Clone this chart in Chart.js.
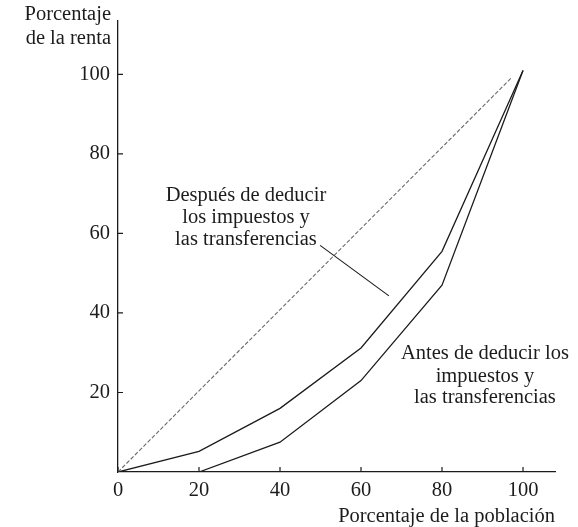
<!DOCTYPE html>
<html>
<head>
<meta charset="utf-8">
<script src="https://cdn.jsdelivr.net/npm/chart.js@4"></script>
<style>
  html, body { margin: 0; padding: 0; background: #ffffff; }
  #wrap { width: 578px; height: 527px; position: relative; }
</style>
</head>
<body>
<div id="wrap"><canvas id="lorenz"></canvas></div>
<script>
// Data (percent of population vs percent of income)
var poblacion = [0, 20, 40, 60, 80, 100];
var despues = [0, 5.2, 16, 31.2, 55.5, 101];   // after taxes and transfers
var antes = [0, 0, 7.5, 23, 47, 101];          // before taxes and transfers
var igualdadX = [0, 97];
var igualdadY = [0, 99];
var xTicks = [0, 20, 40, 60, 80, 100];
var yTicks = [20, 40, 60, 80, 100];

var FONT = '"Liberation Serif", "DejaVu Serif", serif';
var SIZE = 20.5;
var INK = '#1c1c1c';

function toPoints(xs, ys) {
  return xs.map(function (x, i) { return { x: x, y: ys[i] }; });
}

// Text labels and the pointer line, placed in data units
var annotations = {
  despues: { x: 31.6, lines: ['Después de deducir', 'los impuestos y', 'las transferencias'], y: [69.6, 64.1, 58.5] },
  antes: { x: 90.6, lines: ['Antes de deducir los', 'impuestos y', 'las transferencias'], y: [29.9, 24.1, 18.6] },
  pointer: [{ x: 49.9, y: 57.0 }, { x: 66.9, y: 44.3 }]
};

var annotate = {
  id: 'annotate',
  afterDraw: function (chart) {
    var ctx = chart.ctx;
    var xs = chart.scales.x, ys = chart.scales.y;
    var area = chart.chartArea;
    ctx.save();

    // inward tick marks
    ctx.strokeStyle = INK;
    ctx.lineWidth = 1.2;
    ctx.beginPath();
    xTicks.forEach(function (v) {
      var px = xs.getPixelForValue(v);
      ctx.moveTo(px, area.bottom);
      ctx.lineTo(px, area.bottom - 5);
    });
    yTicks.forEach(function (v) {
      var py = ys.getPixelForValue(v);
      ctx.moveTo(area.left, py);
      ctx.lineTo(area.left + 5, py);
    });
    ctx.stroke();

    // pointer
    var p = annotations.pointer;
    ctx.lineWidth = 1.1;
    ctx.beginPath();
    ctx.moveTo(xs.getPixelForValue(p[0].x), ys.getPixelForValue(p[0].y));
    ctx.lineTo(xs.getPixelForValue(p[1].x), ys.getPixelForValue(p[1].y));
    ctx.stroke();

    ctx.fillStyle = INK;
    ctx.font = SIZE + 'px ' + FONT;
    ctx.textBaseline = 'middle';

    // y axis title, horizontal, right aligned against the axis
    ctx.textAlign = 'right';
    ctx.fillText('Porcentaje', area.left - 7, 15);
    ctx.fillText('de la renta', area.left - 7, 39);

    ctx.textAlign = 'center';
    ['despues', 'antes'].forEach(function (k) {
      var a = annotations[k];
      a.lines.forEach(function (t, i) {
        ctx.fillText(t, xs.getPixelForValue(a.x), ys.getPixelForValue(a.y[i]));
      });
    });
    ctx.restore();
  }
};

var ctx = document.getElementById('lorenz');
new Chart(ctx, {
  type: 'line',
  data: {
    datasets: [{
      label: 'Igualdad',
      data: toPoints(igualdadX, igualdadY),
      borderColor: '#6a6a6a',
      borderWidth: 1.1,
      borderDash: [4, 2],
      pointRadius: 0,
      tension: 0
    }, {
      label: 'Después de deducir los impuestos y las transferencias',
      data: toPoints(poblacion, despues),
      borderColor: INK,
      borderWidth: 1.3,
      pointRadius: 0,
      tension: 0
    }, {
      label: 'Antes de deducir los impuestos y las transferencias',
      data: toPoints(poblacion, antes),
      borderColor: INK,
      borderWidth: 1.3,
      pointRadius: 0,
      tension: 0
    }]
  },
  options: {
    responsive: true,
    maintainAspectRatio: false,
    animation: false,
    layout: { padding: { top: 20, right: 23, left: 0, bottom: 0 } },
    plugins: {
      legend: { display: false },
      tooltip: { enabled: false }
    },
    scales: {
      x: {
        type: 'linear',
        min: 0,
        max: 107.9,
        afterBuildTicks: function (scale) {
          scale.ticks = xTicks.map(function (v) { return { value: v }; });
        },
        afterFit: function (scale) { scale.height = 55; },
        grid: { drawOnChartArea: false, drawTicks: false },
        border: { color: INK, width: 1.3 },
        ticks: { padding: 6, color: INK, font: { family: FONT, size: SIZE }, maxRotation: 0 },
        title: {
          display: true,
          text: 'Porcentaje de la población',
          align: 'end',
          color: INK,
          font: { family: FONT, size: SIZE, lineHeight: 1 },
          padding: { top: 0, bottom: 0 }
        }
      },
      y: {
        type: 'linear',
        min: 0,
        max: 113.6,
        afterBuildTicks: function (scale) {
          scale.ticks = yTicks.map(function (v) { return { value: v }; });
        },
        afterFit: function (scale) { scale.width = 118; },
        grid: { drawOnChartArea: false, drawTicks: false },
        border: { color: INK, width: 1.3 },
        ticks: { padding: 8, color: INK, font: { family: FONT, size: SIZE } }
      }
    }
  },
  plugins: [annotate]
});
</script>
</body>
</html>
